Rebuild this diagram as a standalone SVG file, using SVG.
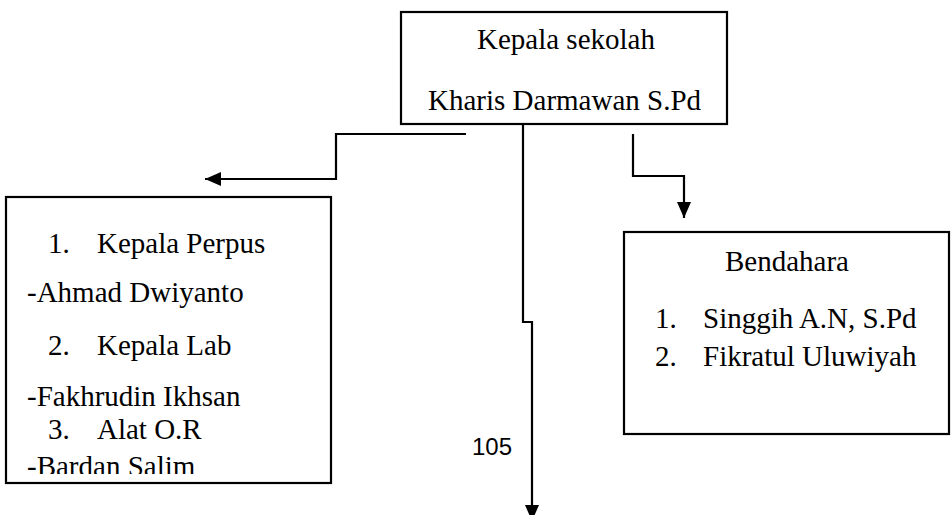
<svg xmlns="http://www.w3.org/2000/svg" width="951" height="515" viewBox="0 0 951 515">
  <style>
    .box { fill: #ffffff; stroke: #000000; stroke-width: 2.2; }
    .t { font-family: "Liberation Serif", "Times New Roman", serif; font-size: 29px; fill: #000000; }
    .pg { font-family: "Liberation Sans", Arial, sans-serif; font-size: 24px; fill: #000000; }
    .conn { fill: none; stroke: #000000; stroke-width: 2.2; marker-end: url(#arrow); }
    .plain { fill: none; stroke: #000000; stroke-width: 2.2; }
  </style>
  <defs>
    <marker id="arrow" markerUnits="userSpaceOnUse" markerWidth="16" markerHeight="14" refX="16" refY="7" orient="auto">
      <path d="M0,0 L16,7 L0,14 z" fill="#000000"/>
    </marker>
    <clipPath id="leftClip">
      <rect x="7" y="198" width="323" height="276"/>
    </clipPath>
  </defs>
  <rect width="951" height="515" fill="#ffffff"/>

  <g id="connectors">
    <path class="conn" d="M466,134 H336 V179 H205"/>
    <path class="conn" d="M523,124 V322 H532 V521"/>
    <path class="conn" d="M633,134 V176 H684 V218"/>
  </g>

  <g id="kepala-sekolah">
    <rect class="box" x="401" y="12" width="326" height="112"/>
    <text class="t" x="477" y="49">Kepala sekolah</text>
    <text class="t" x="428" y="110">Kharis Darmawan S.Pd</text>
  </g>

  <g id="staff">
    <rect class="box" x="6" y="197" width="325" height="286"/>
    <g clip-path="url(#leftClip)">
      <text class="t" x="48" y="253">1.</text>
      <text class="t" x="97" y="253">Kepala Perpus</text>
      <text class="t" x="27" y="302">-Ahmad Dwiyanto</text>
      <text class="t" x="48" y="355">2.</text>
      <text class="t" x="97" y="355">Kepala Lab</text>
      <text class="t" x="27" y="406">-Fakhrudin Ikhsan</text>
      <text class="t" x="48" y="439">3.</text>
      <text class="t" x="97" y="439">Alat O.R</text>
      <text class="t" x="27" y="476">-Bardan Salim</text>
    </g>
  </g>

  <g id="bendahara">
    <rect class="box" x="624" y="232" width="325" height="202"/>
    <text class="t" x="725" y="271">Bendahara</text>
    <text class="t" x="655" y="328">1.</text>
    <text class="t" x="703" y="328">Singgih A.N, S.Pd</text>
    <text class="t" x="655" y="366">2.</text>
    <text class="t" x="703" y="366">Fikratul Uluwiyah</text>
  </g>

  <g id="page-number">
    <text class="pg" x="472" y="455">105</text>
  </g>
</svg>
